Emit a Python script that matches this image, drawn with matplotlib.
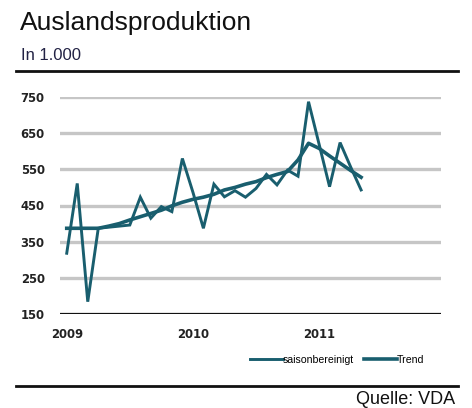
import matplotlib
matplotlib.use('Agg')
import matplotlib.pyplot as plt
from matplotlib.lines import Line2D

# monthly values Jan 2009 .. May 2011, in 1.000
saison = [318, 511, 184, 387, 390, 393, 396, 473, 415, 447, 433, 580,
          487, 387, 509, 474, 491, 473, 497, 536, 507, 548, 531, 737,
          620, 502, 624, 557, 493]
trend = [387, 387, 387, 387, 393, 400, 410, 419, 428, 437, 449, 459,
         467, 473, 481, 493, 500, 509, 516, 527, 536, 544, 576, 622,
         608, 587, 567, 547, 528]
year_labels = ['2009', '2010', '2011']
y_ticks = [150, 250, 350, 450, 550, 650, 750]

teal = '#195e6e'
txt_font = 'Liberation Sans'

fig = plt.figure(figsize=(4.72, 4.08), dpi=100)
W, H = 472, 408

ax = fig.add_axes([60 / W, 1 - 314 / H, 381 / W, 217 / H])
months = list(range(len(saison)))
ax.plot(months, saison, color=teal, lw=2.1, solid_joinstyle='miter', zorder=3)
ax.plot(months, trend, color=teal, lw=2.6, zorder=3)

ax.set_xlim(-0.64, 35.6)
ax.set_ylim(150, 750)
ax.set_yticks(y_ticks)
ax.set_xticks([12 * i for i in range(len(year_labels))])
ax.set_xticklabels(year_labels)
for v in y_ticks[1:]:
    ax.axhline(v, color='#c6c6c6', lw=2.4, zorder=1)
ax.axhline(150, color='#111111', lw=1.6, zorder=2)
for s in ax.spines.values():
    s.set_visible(False)
ax.tick_params(length=0)
ax.tick_params(axis='y', pad=11)
ax.tick_params(axis='x', pad=10)
for lab in ax.get_xticklabels() + ax.get_yticklabels():
    lab.set_fontfamily('DejaVu Sans')
    lab.set_fontweight('bold')
    lab.set_fontsize(8.4)
    lab.set_color('#222222')

handles = [Line2D([], [], color=teal, lw=2.1), Line2D([], [], color=teal, lw=2.6)]
fig.legend(handles, ['saisonbereinigt', 'Trend'], loc='center left',
           bbox_to_anchor=(250 / W, 1 - 360 / H), ncol=2, frameon=False,
           handlelength=3.1, handletextpad=0.0, columnspacing=1.0,
           borderaxespad=0, borderpad=0,
           prop={'family': txt_font, 'size': 7.6})

fig.text(20 / W, 1 - 30 / H, 'Auslandsproduktion', fontsize=19,
         family=txt_font, color='#111111', va='baseline')
fig.text(21 / W, 1 - 60 / H, 'In 1.000', fontsize=12,
         family=txt_font, color='#222244', va='baseline')
fig.add_artist(Line2D([16 / W, 458 / W], [1 - 71 / H, 1 - 71 / H],
                      color='#111111', lw=2.0))
fig.add_artist(Line2D([16 / W, 458 / W], [1 - 386 / H, 1 - 386 / H],
                      color='#111111', lw=2.0))
fig.text(455 / W, 1 - 400 / H, 'Quelle: VDA', fontsize=13,
         family=txt_font, color='#111111', ha='right', va='center')

fig.savefig('out.png', dpi=100)
